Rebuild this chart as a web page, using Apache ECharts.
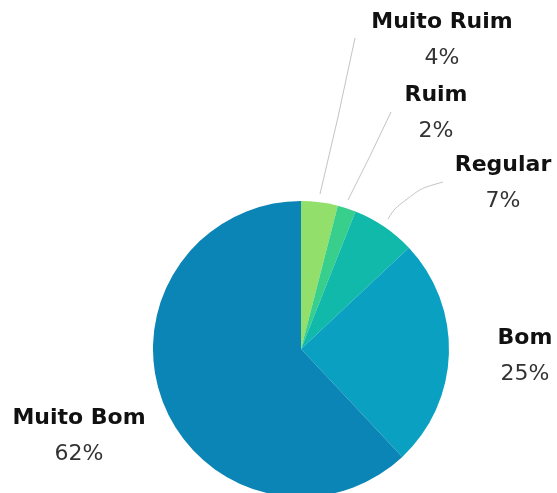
<!DOCTYPE html>
<html>
<head>
<meta charset="utf-8">
<script src="https://cdn.jsdelivr.net/npm/echarts@6/dist/echarts.min.js"></script>
<style>
  html, body { margin: 0; padding: 0; background: #ffffff; }
  #chart { width: 557px; height: 493px; }
</style>
</head>
<body>
<div id="chart"></div>
<script>
// Avaliação: share of answers per rating
const categories = ['Muito Ruim', 'Ruim', 'Regular', 'Bom', 'Muito Bom'];
const percents = [4, 2, 7, 25, 62];
const colors = ['#93df6b', '#37cf8b', '#11b9aa', '#0aa0c2', '#0b84b6'];

// Label anchor (centre of the two-line block) and leader-line path per slice
const labelSpots = [
  { x: 442, y: 40, line: [[320, 194], [338, 117], [355, 38]] },
  { x: 436, y: 113, line: [[348, 200], [370, 156], [391, 112]] },
  { x: 503, y: 183, line: [[388, 219], [404, 193], [443, 182]] },
  { x: 525, y: 356, line: null },
  { x: 79, y: 436, line: null }
];

const chart = echarts.init(document.getElementById('chart'), null, { renderer: 'canvas' });

const data = categories.map((name, i) => ({
  name: name,
  value: percents[i],
  itemStyle: { color: colors[i] },
  labelLine: { show: !!labelSpots[i].line, smooth: i === 2 ? 0.6 : false }
}));

chart.setOption({
  animation: false,
  backgroundColor: '#ffffff',
  series: [{
    type: 'pie',
    center: [301, 349],
    radius: 148,
    startAngle: 90,
    clockwise: true,
    avoidLabelOverlap: false,
    data: data,
    label: {
      show: true,
      position: 'outside',
      formatter: p => '{n|' + p.name + '}\n{p|' + p.value + '%}',
      rich: {
        n: { fontFamily: 'DejaVu Sans', fontWeight: 'bold', fontSize: 22, color: '#111111', lineHeight: 36, align: 'center' },
        p: { fontFamily: 'DejaVu Sans', fontSize: 22, color: '#333333', lineHeight: 36, align: 'center' }
      }
    },
    labelLine: {
      lineStyle: { color: '#c4c4c4', width: 1 }
    },
    labelLayout: function (params) {
      const s = labelSpots[params.dataIndex];
      const out = { x: s.x, y: s.y, align: 'center', verticalAlign: 'middle' };
      if (s.line) out.labelLinePoints = s.line;
      return out;
    },
    emphasis: { disabled: true }
  }]
});
</script>
</body>
</html>
